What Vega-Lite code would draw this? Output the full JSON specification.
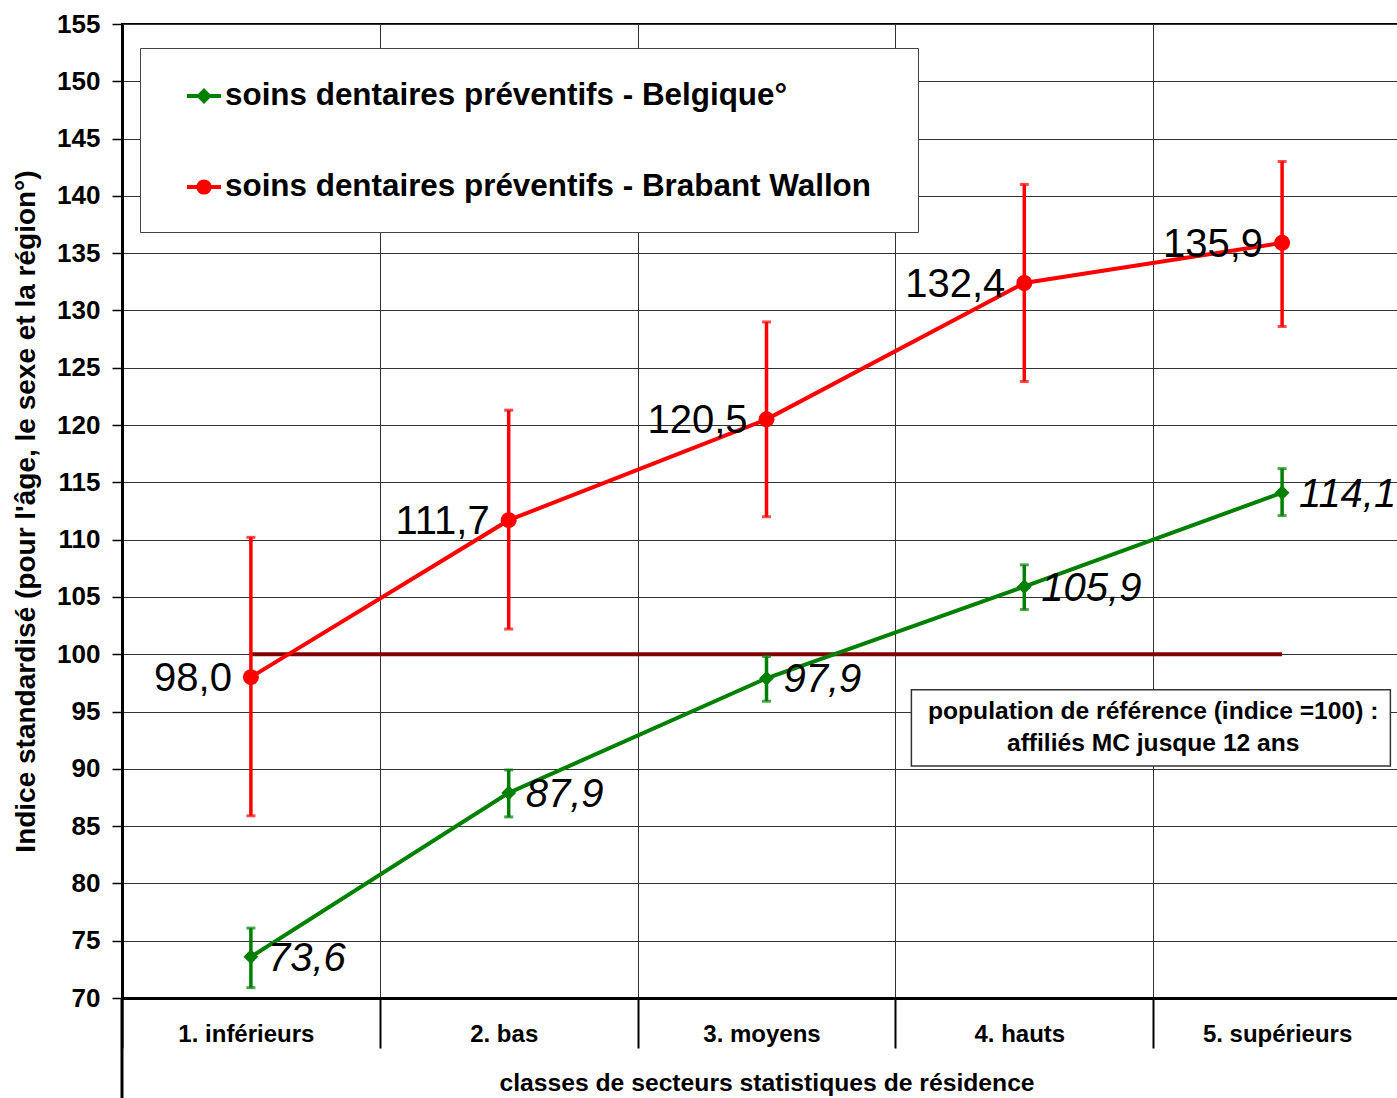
{
  "$schema": "https://vega.github.io/schema/vega-lite/v6.json",
  "width": 1289,
  "height": 974,
  "autosize": "none",
  "padding": {"left": 122, "top": 24, "right": 0, "bottom": 100},
  "background": "white",
  "config": {
    "font": "Liberation Sans",
    "view": {"stroke": "black", "strokeWidth": 2},
    "locale": {"number": {"decimal": ",", "thousands": ".", "grouping": [3], "currency": ["", " €"]}},
    "axis": {
      "labelFont": "Liberation Sans",
      "labelFontWeight": "bold",
      "labelFontSize": 24,
      "labelColor": "black",
      "titleFont": "Liberation Sans",
      "titleFontSize": 24,
      "titleFontWeight": "bold",
      "titleColor": "black",
      "gridColor": "#333333",
      "gridWidth": 1,
      "gridOpacity": 1,
      "domainColor": "black",
      "tickColor": "black"
    }
  },
  "data": {
    "values": [
      {"classe": "1. inférieurs", "serie": "soins dentaires préventifs - Belgique°", "val": 73.6, "lo": 70.9, "hi": 76.1},
      {"classe": "2. bas", "serie": "soins dentaires préventifs - Belgique°", "val": 87.9, "lo": 85.8, "hi": 89.9},
      {"classe": "3. moyens", "serie": "soins dentaires préventifs - Belgique°", "val": 97.9, "lo": 95.9, "hi": 99.8},
      {"classe": "4. hauts", "serie": "soins dentaires préventifs - Belgique°", "val": 105.9, "lo": 103.9, "hi": 107.8},
      {"classe": "5. supérieurs", "serie": "soins dentaires préventifs - Belgique°", "val": 114.1, "lo": 112.1, "hi": 116.2},
      {"classe": "1. inférieurs", "serie": "soins dentaires préventifs - Brabant Wallon", "val": 98.0, "lo": 85.9, "hi": 110.2},
      {"classe": "2. bas", "serie": "soins dentaires préventifs - Brabant Wallon", "val": 111.7, "lo": 102.2, "hi": 121.3},
      {"classe": "3. moyens", "serie": "soins dentaires préventifs - Brabant Wallon", "val": 120.5, "lo": 112.0, "hi": 129.0},
      {"classe": "4. hauts", "serie": "soins dentaires préventifs - Brabant Wallon", "val": 132.4, "lo": 123.8, "hi": 141.0},
      {"classe": "5. supérieurs", "serie": "soins dentaires préventifs - Brabant Wallon", "val": 135.9, "lo": 128.6, "hi": 143.0}
    ]
  },
  "encoding": {
    "x": {
      "field": "classe",
      "type": "nominal",
      "sort": ["1. inférieurs", "2. bas", "3. moyens", "4. hauts", "5. supérieurs"],
      "scale": {"paddingInner": 0, "paddingOuter": 0},
      "title": "classes de secteurs statistiques de résidence",
      "axis": {
        "labelAngle": 0,
        "tickBand": "extent",
        "tickSize": 50,
        "tickWidth": 2,
        "domainWidth": 3,
        "labelPadding": -26,
        "labelOffset": -5,
        "titleFontSize": 24.7,
        "titlePadding": 21,
        "grid": true
      }
    }
  },
  "layer": [
    {
      "data": {"values": [{"note": "axe"}]},
      "mark": {"type": "rule", "color": "black", "strokeWidth": 3},
      "encoding": {
        "x": {"datum": "1. inférieurs", "bandPosition": 0},
        "y": {"datum": 70, "type": "quantitative"},
        "y2": {"datum": 61}
      }
    },
    {
      "data": {"values": [{"note": "référence"}]},
      "mark": {"type": "rule", "color": "#800000", "strokeWidth": 4},
      "encoding": {
        "x": {"datum": "1. inférieurs"},
        "x2": {"datum": "5. supérieurs"},
        "y": {"datum": 100, "type": "quantitative"}
      }
    },
    {
      "mark": {"type": "rule", "strokeWidth": 3.5},
      "encoding": {
        "y": {
          "field": "lo",
          "type": "quantitative",
          "scale": {"domain": [70, 155], "nice": false, "zero": false},
          "title": "Indice standardisé (pour l'âge, le sexe et la région°)",
          "axis": {
            "values": [70, 75, 80, 85, 90, 95, 100, 105, 110, 115, 120, 125, 130, 135, 140, 145, 150, 155],
            "tickSize": 10,
            "tickWidth": 1.5,
            "domainWidth": 3,
            "labelPadding": 12,
            "labelFontSize": 26,
            "titleFontSize": 28,
            "titlePadding": 16,
            "grid": true
          }
        },
        "y2": {"field": "hi"},
        "color": {"field": "serie", "type": "nominal"}
      }
    },
    {
      "mark": {"type": "tick", "size": 9, "thickness": 3},
      "encoding": {
        "y": {"field": "lo", "type": "quantitative"},
        "color": {"field": "serie", "type": "nominal"}
      }
    },
    {
      "mark": {"type": "tick", "size": 9, "thickness": 3},
      "encoding": {
        "y": {"field": "hi", "type": "quantitative"},
        "color": {"field": "serie", "type": "nominal"}
      }
    },
    {
      "mark": {"type": "line", "strokeWidth": 4},
      "encoding": {
        "y": {"field": "val", "type": "quantitative"},
        "color": {
          "field": "serie",
          "type": "nominal",
          "scale": {
            "domain": ["soins dentaires préventifs - Belgique°", "soins dentaires préventifs - Brabant Wallon"],
            "range": ["#008000", "#ff0000"]
          },
          "legend": {
            "title": " ",
            "titleOrient": "right",
            "titleFontSize": 20,
            "titlePadding": 18,
            "orient": "none",
            "legendX": 18,
            "legendY": 24,
            "direction": "vertical",
            "padding": 29,
            "strokeColor": "#444444",
            "fillColor": "white",
            "labelFont": "Liberation Sans",
            "labelFontSize": 31.4,
            "labelFontWeight": "bold",
            "labelColor": "black",
            "labelLimit": 1000,
            "symbolSize": 1156,
            "symbolStrokeWidth": 4,
            "symbolOffset": 16,
            "labelOffset": 2,
            "rowPadding": 56,
            "encode": {
              "symbols": {
                "update": {
                  "shape": {"signal": "datum.value == 'soins dentaires préventifs - Belgique°' ? 'M-1,0L1,0M0,-0.3L0.3,0L0,0.3L-0.3,0Z' : 'M-1,0L1,0M-0.33,0A0.33,0.33 0 1,0 0.33,0A0.33,0.33 0 1,0 -0.33,0Z'"},
                  "size": {"value": 1156},
                  "stroke": {"scale": "color", "field": "value"},
                  "fill": {"scale": "color", "field": "value"},
                  "strokeWidth": {"value": 4},
                  "opacity": {"value": 1}
                }
              }
            }
          }
        }
      }
    },
    {
      "transform": [{"filter": "datum.serie == 'soins dentaires préventifs - Belgique°'"}],
      "mark": {"type": "point", "filled": true, "opacity": 1, "shape": "diamond", "size": 220},
      "encoding": {
        "y": {"field": "val", "type": "quantitative"},
        "color": {"field": "serie", "type": "nominal"}
      }
    },
    {
      "transform": [{"filter": "datum.serie == 'soins dentaires préventifs - Brabant Wallon'"}],
      "mark": {"type": "point", "filled": true, "opacity": 1, "shape": "circle", "size": 256},
      "encoding": {
        "y": {"field": "val", "type": "quantitative"},
        "color": {"field": "serie", "type": "nominal"}
      }
    },
    {
      "transform": [{"filter": "datum.serie == 'soins dentaires préventifs - Brabant Wallon'"}],
      "mark": {"type": "text", "align": "right", "baseline": "middle", "dx": -19, "dy": 2, "fontSize": 40, "fill": "black", "font": "Liberation Sans"},
      "encoding": {
        "y": {"field": "val", "type": "quantitative"},
        "text": {"field": "val", "type": "quantitative", "format": ".1f"}
      }
    },
    {
      "transform": [{"filter": "datum.serie == 'soins dentaires préventifs - Belgique°'"}],
      "mark": {"type": "text", "align": "left", "baseline": "middle", "dx": 17, "dy": 2, "fontSize": 40, "fontStyle": "italic", "fill": "black", "font": "Liberation Sans"},
      "encoding": {
        "y": {"field": "val", "type": "quantitative"},
        "text": {"field": "val", "type": "quantitative", "format": ".1f"}
      }
    },
    {
      "data": {"values": [{"note": "population de référence"}]},
      "mark": {"type": "rect", "fill": "white", "stroke": "#333333", "strokeWidth": 1.5},
      "encoding": {
        "x": {"datum": "4. hauts", "bandPosition": 0.062},
        "x2": {"datum": "5. supérieurs", "bandPosition": 0.92},
        "y": {"datum": 96.9, "type": "quantitative"},
        "y2": {"datum": 90.25}
      }
    },
    {
      "data": {"values": [{"note": "population de référence"}]},
      "mark": {"type": "text", "align": "center", "baseline": "middle", "fontSize": 24.6, "fontWeight": "bold", "lineHeight": 32, "fill": "black", "font": "Liberation Sans"},
      "encoding": {
        "x": {"datum": "5. supérieurs", "bandPosition": 0},
        "y": {"datum": 94.95, "type": "quantitative"},
        "text": {"value": ["population de référence (indice =100) :", "affiliés MC jusque 12 ans"]}
      }
    }
  ]
}
